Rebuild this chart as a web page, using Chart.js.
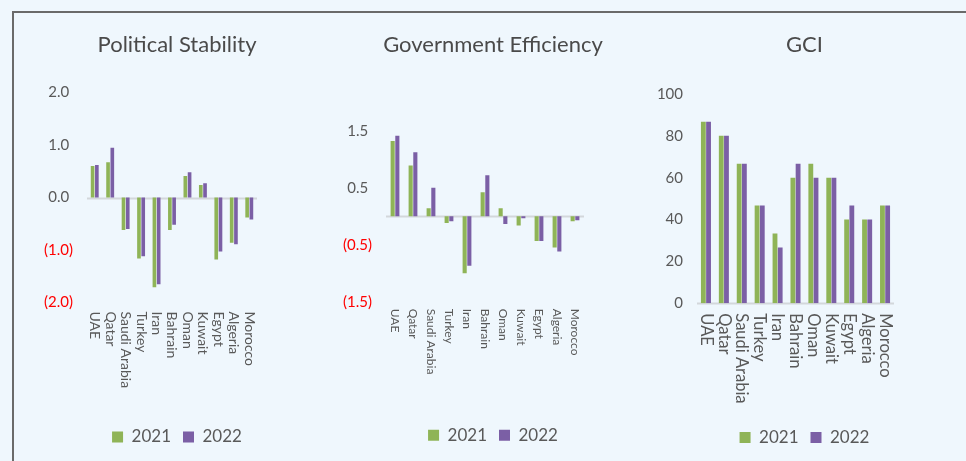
<!DOCTYPE html>
<html>
<head>
<meta charset="utf-8">
<script src="https://cdn.jsdelivr.net/npm/chart.js@4.4.0/dist/chart.umd.min.js"></script>
<style>
  html, body { margin: 0; padding: 0; }
  body { width: 966px; height: 461px; overflow: hidden; background: #EFF7FD; position: relative; }
  .frame { position: absolute; left: 12px; top: 11px; width: 1000px; height: 500px; border-top: 2px solid #6a6a6a; border-left: 2px solid #6a6a6a; }
  canvas { position: absolute; top: 0; }
</style>
</head>
<body>
<div class="frame"></div>
<canvas id="stability" width="314" height="461" style="left:20px"></canvas>
<canvas id="efficiency" width="326" height="461" style="left:330px"></canvas>
<canvas id="gci" width="309" height="461" style="left:650px"></canvas>
<script>
const countries = ['UAE', 'Qatar', 'Saudi Arabia', 'Turkey', 'Iran', 'Bahrain', 'Oman', 'Kuwait', 'Egypt', 'Algeria', 'Morocco'];
const years = ['2021', '2022'];

const stability2021 = [0.60, 0.67, -0.62, -1.16, -1.71, -0.62, 0.41, 0.24, -1.18, -0.86, -0.38];
const stability2022 = [0.62, 0.95, -0.60, -1.12, -1.65, -0.52, 0.48, 0.27, -1.03, -0.89, -0.42];

const efficiency2021 = [1.32, 0.89, 0.14, -0.12, -1.00, 0.42, 0.14, -0.165, -0.435, -0.55, -0.09];
const efficiency2022 = [1.41, 1.12, 0.50, -0.09, -0.87, 0.72, -0.135, -0.035, -0.435, -0.62, -0.07];

const gci2021 = [86.7, 80, 66.7, 46.7, 33.3, 60, 66.7, 60, 40, 40, 46.7];
const gci2022 = [86.7, 80, 66.7, 46.7, 26.7, 66.7, 60, 60, 46.7, 40, 46.7];

const stabilityTicks = [-2, -1, 0, 1, 2];
const efficiencyTicks = [-1.5, -0.5, 0.5, 1.5];
const gciTicks = [0, 20, 40, 60, 80, 100];

const GREEN = '#8FB457';
const PURPLE = '#7B5FA5';
const TEXT = '#595959';

Chart.defaults.font.family = 'Lato, "Open Sans", sans-serif';
Chart.defaults.color = TEXT;

// accounting style: negatives in brackets and red
function accounting(v) {
  return v < 0 ? '(' + Math.abs(v).toFixed(1) + ')' : v.toFixed(1) + ' ';
}

// light rule along the zero value
const zeroLine = {
  id: 'zeroLine',
  beforeDatasetsDraw(chart) {
    const {ctx, chartArea, scales} = chart;
    const y = Math.round(scales.y.getPixelForValue(0)) + 0.5;
    ctx.save();
    ctx.strokeStyle = '#D3D7DB';
    ctx.lineWidth = 2;
    ctx.beginPath();
    ctx.moveTo(chartArea.left, y);
    ctx.lineTo(chartArea.right, y);
    ctx.stroke();
    ctx.restore();
  }
};

// category names turned to read top-down, hanging under the plot
const downLabels = {
  id: 'downLabels',
  afterDraw(chart, args, opts) {
    const {ctx, chartArea, scales} = chart;
    ctx.save();
    ctx.fillStyle = TEXT;
    ctx.font = opts.size + 'px ' + Chart.defaults.font.family;
    ctx.textAlign = 'left';
    ctx.textBaseline = 'middle';
    chart.data.labels.forEach((label, i) => {
      const x = scales.x.getPixelForValue(i);
      ctx.save();
      ctx.translate(x, chartArea.bottom + opts.gap);
      ctx.rotate(Math.PI / 2);
      ctx.fillText(label, 0, 0);
      ctx.restore();
    });
    ctx.restore();
  }
};

function makePanel(id, p) {
  const ctx = document.getElementById(id).getContext('2d');
  return new Chart(ctx, {
    type: 'bar',
    data: {
      labels: countries,
      datasets: [
        {label: years[0], data: p.a, backgroundColor: GREEN},
        {label: years[1], data: p.b, backgroundColor: PURPLE}
      ]
    },
    plugins: [zeroLine, downLabels],
    options: {
      responsive: false,
      animation: false,
      devicePixelRatio: 1,
      datasets: {
        bar: {categoryPercentage: p.cat, barPercentage: p.bar}
      },
      layout: {padding: {top: 0, left: 0, right: 0, bottom: p.padBottom}},
      scales: {
        x: {
          grid: {display: false, drawTicks: false},
          border: {display: false},
          ticks: {display: false},
          afterFit: (s) => { s.height = p.xHeight; }
        },
        y: {
          min: p.ticks[0],
          max: p.ticks[p.ticks.length - 1],
          grid: {display: false, drawTicks: false},
          border: {display: false},
          afterBuildTicks: (s) => { s.ticks = p.ticks.map(v => ({value: v})); },
          afterFit: (s) => { s.width = p.yWidth; },
          ticks: {
            padding: 14,
            font: {size: 15},
            callback: p.format,
            color: (c) => c.tick.value < 0 ? '#FF0000' : TEXT
          }
        },
        spare: {
          position: 'right',
          display: true,
          grid: {display: false, drawTicks: false},
          border: {display: false},
          ticks: {display: false},
          afterFit: (s) => { s.width = p.rightWidth; }
        }
      },
      plugins: {
        title: {
          display: true,
          text: p.title,
          color: '#4A4A4A',
          font: {size: 22, weight: 'normal', lineHeight: 1.2},
          padding: {top: 32, bottom: p.titleGap}
        },
        legend: {
          position: 'bottom',
          labels: {boxWidth: 11, boxHeight: 11, padding: 12, font: {size: 17}, color: TEXT}
        },
        tooltip: {enabled: false},
        downLabels: {size: p.labelSize, gap: p.labelGap}
      }
    }
  });
}

makePanel('stability', {
  title: 'Political Stability', a: stability2021, b: stability2022, ticks: stabilityTicks,
  format: (v) => accounting(v), cat: 0.55, bar: 0.86,
  yWidth: 67, rightWidth: 77, titleGap: 34.1, xHeight: 114, padBottom: 5.5,
  labelSize: 14, labelGap: 9
});

makePanel('efficiency', {
  title: 'Government Efficiency', a: efficiency2021, b: efficiency2022, ticks: efficiencyTicks,
  format: (v) => accounting(v), cat: 0.52, bar: 0.88,
  yWidth: 56, rightWidth: 72, titleGap: 72.3, xHeight: 113.1, padBottom: 7.2,
  labelSize: 12, labelGap: 7
});

makePanel('gci', {
  title: 'GCI', a: gci2021, b: gci2022, ticks: gciTicks,
  format: (v) => String(v), cat: 0.58, bar: 0.93,
  yWidth: 47, rightWidth: 65, titleGap: 35.6, xHeight: 113.7, padBottom: 5,
  labelSize: 16.5, labelGap: 10
});
</script>
</body>
</html>
